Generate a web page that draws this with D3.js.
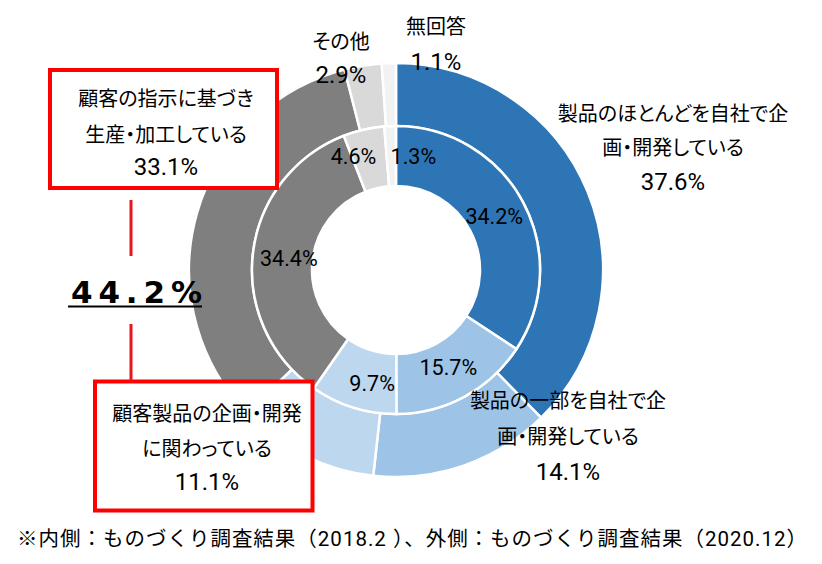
<!DOCTYPE html>
<html><head><meta charset="utf-8">
<script src="https://cdn.jsdelivr.net/npm/d3@7"></script>
<style>
html,body{margin:0;padding:0;background:#fff;}
svg{display:block;}
.lbl{font-family:Roboto,'Noto Sans CJK JP',sans-serif;font-feature-settings:"palt";fill:#000;}
.cap{font-family:Roboto,'Noto Sans CJK JP',sans-serif;fill:#000;}
</style></head>
<body>
<svg id="c" width="822" height="564"></svg>
<script>
// ---- data ----
const categories = [
  ["製品のほとんどを自社で企", "画・開発している"],
  ["製品の一部を自社で企", "画・開発している"],
  ["顧客製品の企画・開発", "に関わっている"],
  ["顧客の指示に基づき", "生産・加工している"],
  ["その他"],
  ["無回答"]
];
const innerValues = [34.2, 15.7, 9.7, 34.4, 4.6, 1.3];   // 2018.2
const outerValues = [37.6, 14.1, 11.1, 33.1, 2.9, 1.1];  // 2020.12
const colors = ["#2E75B6", "#9DC3E6", "#BDD7EE", "#7F7F7F", "#D9D9D9", "#F2F2F2"];
const caption = "※内側：ものづくり調査結果（2018.2 ）、外側：ものづくり調査結果（2020.12）";

// ---- layout ----
const cx = 396, cy = 270;
const inner = {r0: 84, r1: 144};
const outer = {r0: 144, r1: 207};
const innerNudge = [[-2, 0], [-2, -3], [10, 4], [6, 2], [-17, -3], [22, 0]];
const outerLabelPos = [
  {x: 673, ys: [121, 155, 190]},
  {x: 568, ys: [408, 444, 480]},
  {x: 207, ys: [421, 456, 490]},
  {x: 166, ys: [106, 142, 175]},
  {x: 341, ys: [49, 83]},
  {x: 436, ys: [34, 70]}
];
const boxes = [
  {x: 50, y: 70, w: 227, h: 118},
  {x: 95, y: 381.5, w: 217.5, h: 129}
];

const svg = d3.select("#c");
svg.append("rect").attr("width", 822).attr("height", 564).attr("fill", "#fff");

const pie = d3.pie().sort(null).value(d => d);
const g = svg.append("g").attr("transform", `translate(${cx},${cy})`);

function ring(values, r, cls) {
  const arc = d3.arc().innerRadius(r.r0).outerRadius(r.r1);
  const arcs = pie(values);
  g.append("g").attr("class", cls).selectAll("path").data(arcs).join("path")
    .attr("d", arc)
    .attr("fill", (d, i) => colors[i])
    .attr("stroke", "#fff").attr("stroke-width", 2.5).attr("stroke-linejoin", "miter");
  return {arc, arcs};
}
ring(outerValues, outer, "outer");
const innerRing = ring(innerValues, inner, "inner");

// inner labels at centroid
const labArc = d3.arc().innerRadius((inner.r0 + inner.r1) / 2).outerRadius((inner.r0 + inner.r1) / 2);
g.append("g").selectAll("text").data(innerRing.arcs).join("text")
  .attr("class", "lbl")
  .attr("x", (d, i) => labArc.centroid(d)[0] + innerNudge[i][0])
  .attr("y", (d, i) => labArc.centroid(d)[1] + innerNudge[i][1])
  .attr("dy", "0.36em")
  .attr("text-anchor", "middle")
  .attr("font-size", 21.5)
  .text(d => d.data.toFixed(1) + "%");

// red boxes (white fill covering ring)
boxes.forEach(b => {
  svg.append("rect").attr("x", b.x).attr("y", b.y).attr("width", b.w).attr("height", b.h)
    .attr("fill", "#fff").attr("stroke", "#FF0000").attr("stroke-width", 4);
});

// connector lines
const bx = 131;
svg.append("line").attr("x1", bx).attr("x2", bx).attr("y1", 200).attr("y2", 256)
  .attr("stroke", "#E8151C").attr("stroke-width", 3);
svg.append("line").attr("x1", bx).attr("x2", bx).attr("y1", 324).attr("y2", 381)
  .attr("stroke", "#E8151C").attr("stroke-width", 3);

// outer labels
outerValues.forEach((v, i) => {
  const p = outerLabelPos[i];
  const lines = categories[i].concat([v.toFixed(1) + "%"]);
  lines.forEach((t, k) => {
    const isPct = k === lines.length - 1;
    svg.append("text").attr("class", "lbl")
      .attr("x", p.x).attr("y", p.ys[k])
      .attr("text-anchor", "middle")
      .attr("font-size", isPct ? 24 : 20)
      .text(t);
  });
});

// combined total
const total = (outerValues[2] + outerValues[3]).toFixed(1) + "%";
svg.append("text")
  .attr("x", 71).attr("y", 303)
  .attr("font-family", "'DejaVu Sans',sans-serif")
  .attr("font-weight", "bold")
  .attr("font-size", 31)
  .attr("textLength", 131).attr("lengthAdjust", "spacing")
  .attr("fill", "#000")
  .text(total);
svg.append("line").attr("x1", 68).attr("x2", 202).attr("y1", 306.5).attr("y2", 306.5)
  .attr("stroke", "#000").attr("stroke-width", 2);

// caption
svg.append("text").attr("class", "cap")
  .attr("x", 17).attr("y", 546)
  .attr("font-size", 20.5)
  .attr("textLength", 790).attr("lengthAdjust", "spacing")
  .text(caption);
</script>
</body></html>
